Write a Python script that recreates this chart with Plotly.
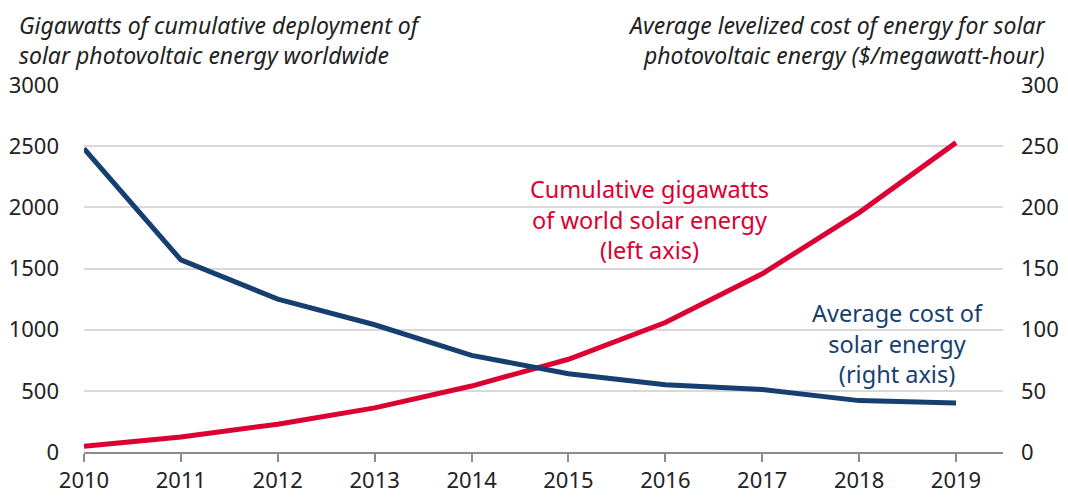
import plotly.graph_objects as go

years = [2010, 2011, 2012, 2013, 2014, 2015, 2016, 2017, 2018, 2019]
# cumulative GW of solar PV worldwide (left axis)
gigawatts = [47, 123, 227, 361, 539, 758, 1058, 1457, 1957, 2529]
# average levelized cost, $/MWh (right axis)
cost = [248, 157, 125, 104, 79, 64, 55, 51, 42, 40]

left_ticks = [0, 500, 1000, 1500, 2000, 2500, 3000]
right_ticks = [0, 50, 100, 150, 200, 250, 300]

RED = "#dc0032"
NAVY = "#153f70"
FONT = "Noto Sans"

fig = go.Figure()

fig.add_trace(go.Scatter(
    x=years, y=gigawatts, mode="lines", name="Cumulative gigawatts",
    line=dict(color=RED, width=5), yaxis="y"
))
fig.add_trace(go.Scatter(
    x=years, y=cost, mode="lines", name="Average cost",
    line=dict(color=NAVY, width=5), yaxis="y2"
))

# series labels
fig.add_annotation(
    x=2015.84, y=1900, xref="x", yref="y",
    text="Cumulative gigawatts<br>of world solar energy<br>(left axis)",
    showarrow=False, font=dict(family=FONT, size=23.5, color=RED),
    align="center"
)
fig.add_annotation(
    x=2018.4, y=890, xref="x", yref="y",
    text="Average cost of<br>solar energy<br>(right axis)",
    showarrow=False, font=dict(family=FONT, size=23.5, color=NAVY),
    align="center"
)

# axis titles, placed above the plot (top of box at the figure's top edge)
fig.add_annotation(
    x=-0.072, y=1.209, xref="paper", yref="paper",
    xanchor="left", yanchor="top", align="left", borderpad=0,
    text="<i>Gigawatts of cumulative deployment of<br>solar photovoltaic energy worldwide</i>",
    showarrow=False, font=dict(family=FONT, size=23, color="#222222")
)
fig.add_annotation(
    x=1.047, y=1.209, xref="paper", yref="paper",
    xanchor="right", yanchor="top", align="right", borderpad=0,
    text="<i>Average levelized cost of energy for solar<br>photovoltaic energy ($/megawatt-hour)</i>",
    showarrow=False, font=dict(family=FONT, size=23, color="#222222")
)

# page body keeps an 8px margin, so the figure is 16px smaller than the window
fig.update_layout(
    width=1052, height=486,
    margin=dict(l=76, r=57, t=77, b=42),
    plot_bgcolor="white", paper_bgcolor="white",
    showlegend=False,
    font=dict(family=FONT, size=22, color="#222222"),
    xaxis=dict(
        range=[2010, 2019.485],
        tickmode="array", tickvals=years,
        showgrid=False, zeroline=False, automargin=False,
        showline=True, linecolor="#8c8c8c", linewidth=2,
        ticks="outside", ticklen=8, tickwidth=2, tickcolor="#8c8c8c",
        tickfont=dict(size=22),
    ),
    yaxis=dict(
        range=[0, 3000], tickmode="array", tickvals=left_ticks,
        showgrid=True, gridcolor="#d9d9d9", gridwidth=1.5,
        zeroline=False, showline=False, ticks="", automargin=False,
        ticklabelstandoff=24, tickfont=dict(size=22),
    ),
    yaxis2=dict(
        range=[0, 300], tickmode="array", tickvals=right_ticks,
        overlaying="y", side="right", automargin=False,
        showgrid=False, zeroline=False, showline=False, ticks="",
        ticklabelstandoff=17, tickfont=dict(size=22),
    ),
)

fig.write_html("out.html")
